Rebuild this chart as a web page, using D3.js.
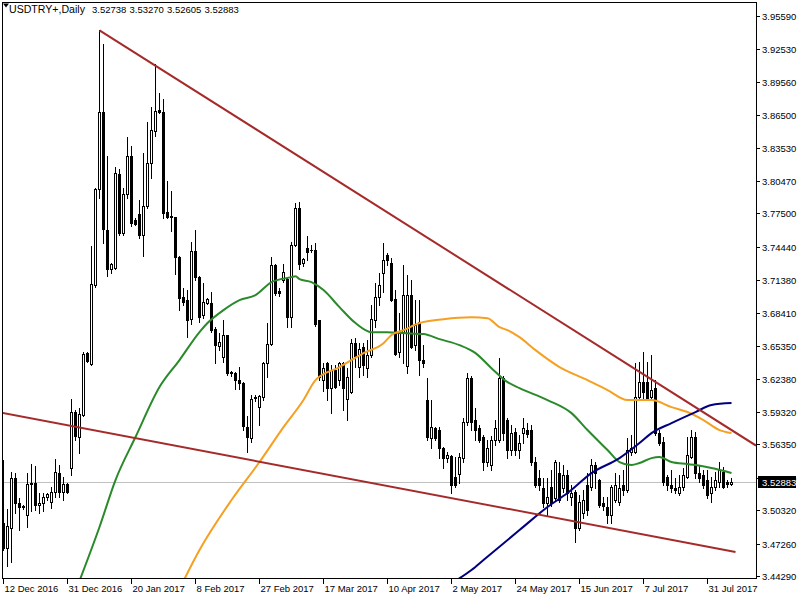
<!DOCTYPE html>
<html><head><meta charset="utf-8">
<script src="https://cdn.jsdelivr.net/npm/d3@7"></script>
<style>
html,body{margin:0;padding:0;background:#fff;}
svg{display:block;}
text{font-family:"Liberation Sans",Arial,sans-serif;font-size:9.5px;fill:#000;}
</style></head><body>
<svg id="chart" width="800" height="600"></svg>
<script>
const symbolLabel = "USDTRY+,Daily";
const lastOHLC = [3.52738, 3.53270, 3.52605, 3.52883];

const open = [
3.4914,3.4685,3.4869,3.5326,3.5097,3.5070,3.4988,3.5271,3.5281,3.5079,
3.5097,3.5152,3.5107,3.5198,3.5372,3.5198,3.5271,3.5418,3.5931,3.5702,
3.5903,3.6471,3.6370,3.7093,3.7972,3.8677,3.7597,3.7240,3.7249,3.8110,
3.7570,3.7927,3.8275,3.7689,3.7744,3.7551,3.7817,3.8210,3.8503,3.8696,
3.8677,3.7762,3.7725,3.7716,3.7350,3.6984,3.6956,3.6782,3.7405,3.7167,
3.6819,3.6929,3.6929,3.6691,3.6535,3.6434,3.6636,3.6297,3.6288,3.6224,
3.6196,3.5793,3.5693,3.6059,3.5976,3.6068,3.6379,3.6553,3.7277,3.7039,
3.7139,3.7148,3.6800,3.7460,3.7798,3.7295,3.7432,3.7414,3.7414,3.6773,
3.6224,3.6379,3.6150,3.6315,3.6224,3.6379,3.6050,3.6114,3.6562,3.6343,
3.6526,3.6333,3.6453,3.6773,3.6984,3.7203,3.7368,3.7295,3.6965,3.6480,
3.6654,3.6352,3.7002,3.6544,3.6755,3.6407,3.6041,3.5693,3.5784,3.5766,
3.5601,3.5509,3.5528,3.5335,3.5363,3.5509,3.5839,3.6242,3.5857,3.5784,
3.5702,3.5473,3.5445,3.5674,3.5674,3.6242,3.5857,3.5583,3.5748,3.5583,
3.5738,3.5766,3.5766,3.5473,3.5326,3.5235,3.5097,3.5244,3.5143,3.5372,
3.5235,3.5354,3.5152,3.5198,3.4869,3.5006,3.5262,3.5244,3.5445,3.5308,
3.5097,3.5061,3.4988,3.5125,3.5107,3.5262,3.5216,3.5564,3.5564,3.6068,
3.6205,3.6205,3.6068,3.6150,3.5738,3.5656,3.5335,3.5262,3.5235,3.5189,
3.5244,3.5335,3.5519,3.5702,3.5372,3.5354,3.5308,3.5189,3.5244,3.5290,
3.5381,3.5290,3.52738];
const high = [
3.5491,3.5042,3.5381,3.5372,3.5143,3.5079,3.5372,3.5455,3.5436,3.5189,
3.5189,3.5189,3.5244,3.5500,3.5445,3.5335,3.5281,3.6050,3.5949,3.5967,
3.6480,3.6480,3.7451,3.7982,3.9428,3.9300,3.8275,3.7295,3.8174,3.8156,
3.7982,3.8449,3.8366,3.7707,3.7872,3.8302,3.8586,3.8723,3.9117,3.8851,
3.8796,3.8046,3.7954,3.7720,3.7359,3.7066,3.7048,3.7487,3.7597,3.7176,
3.7112,3.6974,3.7029,3.6709,3.6654,3.6773,3.6640,3.6306,3.6297,3.6343,
3.6205,3.5894,3.6086,3.6086,3.6086,3.6388,3.6746,3.7350,3.7286,3.7066,
3.7286,3.7167,3.7487,3.7844,3.7853,3.7341,3.7542,3.7460,3.7478,3.6775,
3.6379,3.6388,3.6361,3.6361,3.6388,3.6388,3.6333,3.6599,3.6608,3.6562,
3.6562,3.6590,3.6910,3.7112,3.7203,3.7478,3.7386,3.7341,3.7048,3.6837,
3.7277,3.7185,3.7139,3.6956,3.6956,3.6544,3.6242,3.6041,3.5793,3.5793,
3.5610,3.5564,3.5537,3.5519,3.5555,3.5876,3.6288,3.6260,3.5967,3.5812,
3.5720,3.5674,3.5711,3.5857,3.6425,3.6260,3.5876,3.5812,3.5784,3.5720,
3.5876,3.5830,3.5812,3.5519,3.5400,3.5326,3.5326,3.5400,3.5491,3.5473,
3.5445,3.5400,3.5262,3.5216,3.5171,3.5216,3.5372,3.5500,3.5473,3.5317,
3.5152,3.5152,3.5262,3.5372,3.5354,3.5400,3.5693,3.5720,3.6379,3.6388,
3.6480,3.6388,3.6453,3.6224,3.5766,3.5702,3.5354,3.5400,3.5326,3.5354,
3.5418,3.5702,3.5766,3.5748,3.5445,3.5400,3.5400,3.5335,3.5381,3.5473,
3.5427,3.5308,3.53270];
const low = [
3.4667,3.4521,3.4557,3.5006,3.4850,3.5042,3.4878,3.5024,3.5033,3.5006,
3.5024,3.5125,3.5052,3.5152,3.5152,3.5125,3.5189,3.5354,3.5674,3.5555,
3.5894,3.6390,3.6361,3.7075,3.7890,3.7478,3.7176,3.7203,3.7240,3.7551,
3.7551,3.7890,3.7634,3.7643,3.7524,3.7359,3.7798,3.8073,3.8458,3.8668,
3.7707,3.7707,3.7588,3.7194,3.6865,3.6910,3.6617,3.6736,3.7139,3.6755,
3.6791,3.6925,3.6663,3.6379,3.6498,3.6388,3.6269,3.6260,3.6141,3.6141,
3.5766,3.5564,3.5656,3.6031,3.5812,3.6041,3.6251,3.6544,3.7002,3.6993,
3.7121,3.6709,3.6709,3.7451,3.7240,3.7267,3.7322,3.7396,3.6718,3.6224,
3.6123,3.6041,3.5921,3.6150,3.6178,3.5949,3.5857,3.6105,3.6343,3.6251,
3.6269,3.6251,3.6434,3.6709,3.6910,3.7029,3.7277,3.6947,3.6453,3.6434,
3.6379,3.6288,3.6517,3.6498,3.6269,3.6343,3.5674,3.5601,3.5674,3.5509,
3.5418,3.5473,3.5189,3.5244,3.5281,3.5473,3.5812,3.5766,3.5674,3.5656,
3.5400,3.5436,3.5400,3.5628,3.5656,3.5674,3.5509,3.5537,3.5537,3.5509,
3.5647,3.5702,3.5445,3.5244,3.5216,3.5061,3.4988,3.5070,3.5125,3.5107,
3.5198,3.5125,3.5079,3.4740,3.4850,3.4960,3.4988,3.5216,3.5235,3.5061,
3.5033,3.4914,3.4914,3.5107,3.5079,3.5171,3.5198,3.5537,3.5555,3.6041,
3.6041,3.6041,3.6041,3.5720,3.5628,3.5262,3.5216,3.5198,3.5189,3.5171,
3.5216,3.5326,3.5509,3.5326,3.5290,3.5235,3.5143,3.5107,3.5216,3.5244,
3.5235,3.5244,3.52605];
const close = [
3.4685,3.4887,3.5326,3.5097,3.5061,3.5061,3.5271,3.5281,3.5079,3.5097,
3.5152,3.5180,3.5198,3.5381,3.5198,3.5271,3.5198,3.5931,3.5711,3.5912,
3.6462,3.6398,3.7103,3.7972,3.8677,3.7606,3.7240,3.7286,3.8119,3.7570,
3.7927,3.8275,3.7661,3.7652,3.7551,3.7817,3.8210,3.8513,3.8687,3.8677,
3.7753,3.7716,3.7716,3.7350,3.6974,3.6938,3.6773,3.7405,3.7167,3.6800,
3.6938,3.6965,3.6681,3.6544,3.6572,3.6636,3.6288,3.6288,3.6224,3.6196,
3.5802,3.5702,3.6050,3.6068,3.6077,3.6379,3.6553,3.7277,3.7020,3.7020,
3.7212,3.6800,3.7460,3.7798,3.7286,3.7332,3.7396,3.7411,3.6736,3.6251,
3.6333,3.6150,3.6315,3.6160,3.6379,3.6150,3.6251,3.6562,3.6443,3.6507,
3.6361,3.6453,3.6782,3.6984,3.7093,3.7322,3.7322,3.6956,3.6462,3.6654,
3.7002,3.7002,3.6526,3.6727,3.6407,3.6379,3.5702,3.5793,3.5693,3.5601,
3.5509,3.5537,3.5262,3.5262,3.5519,3.5839,3.6242,3.5839,3.5766,3.5674,
3.5473,3.5601,3.5674,3.5784,3.6242,3.5738,3.5583,3.5738,3.5583,3.5647,
3.5784,3.5729,3.5473,3.5262,3.5262,3.5097,3.5152,3.5097,3.5473,3.5125,
3.5354,3.5189,3.5189,3.4869,3.5107,3.5125,3.5033,3.5445,3.5372,3.5079,
3.5070,3.4988,3.5244,3.5262,3.5235,3.5216,3.5583,3.5601,3.6068,3.6205,
3.6114,3.6059,3.6132,3.5738,3.5647,3.5290,3.5262,3.5235,3.5216,3.5244,
3.5354,3.5537,3.5702,3.5372,3.5326,3.5262,3.5171,3.5244,3.5308,3.5400,
3.5244,3.5271,3.52883];

const dateLabels = ["12 Dec 2016","31 Dec 2016","20 Jan 2017","8 Feb 2017","27 Feb 2017","17 Mar 2017","10 Apr 2017","2 May 2017","24 May 2017","15 Jun 2017","7 Jul 2017","31 Jul 2017"];
const dateLabelBars = [0,16,32,48,64,80,96,112,128,144,160,176];
const priceTicks = [3.95590,3.92530,3.89560,3.86500,3.83530,3.80470,3.77500,3.74440,3.71380,3.68410,3.65350,3.62380,3.59320,3.56350,3.53290,3.50320,3.47260,3.44290];

const maGreenBars = [19,24,28,33,39,44,49,51,55,59,63,67,72,73,74,77,80,84,88,92,96,100,105,109,114,118,122,126,129,136,142,146,151,154,157,159,162,164,167,171,173,177,182];
const maGreen = [3.4385,3.4878,3.5308,3.5702,3.6160,3.6407,3.6663,3.6746,3.6865,3.6956,3.7002,3.7121,3.7167,3.7176,3.7148,3.7121,3.7048,3.6892,3.6746,3.6663,3.6663,3.6654,3.6645,3.6599,3.6544,3.6471,3.6333,3.6205,3.6150,3.6041,3.5921,3.5766,3.5583,3.5473,3.5445,3.5464,3.5509,3.5519,3.5473,3.5454,3.5445,3.5418,3.5372];
const maOrangeBars = [45,49,57,64,70,75,78,84,90,95,97,100,104,110,117,121,124,126,129,133,139,146,151,156,162,167,171,175,179,182];
const maOrange = [3.4385,3.4667,3.5125,3.5473,3.5793,3.6041,3.6224,3.6343,3.6471,3.6562,3.6636,3.6681,3.6746,3.6782,3.6800,3.6791,3.6709,3.6681,3.6617,3.6498,3.6343,3.6224,3.6132,3.6041,3.6041,3.5976,3.5931,3.5857,3.5766,3.5738];
const maNavyBars = [113,117,120,129,136,141,147,154,159,162,167,173,177,182];
const maNavy = [3.4385,3.4484,3.4576,3.4850,3.5061,3.5189,3.5372,3.5509,3.5647,3.5738,3.5830,3.5931,3.5995,3.6013];

const trendUpperBars = [24,182];
const trendUpper = [3.9428,3.5766];
const trendLowerBars = [-1,183];
const trendLower = [3.5928,3.4649];

const svg = d3.select("#chart");
const L = 2, R = 756, T = 2, B = 578;
const x = d3.scaleLinear().domain([0,182]).range([3.5,731.5]);
const y = d3.scaleLinear().domain([3.4429,3.9559]).range([576,16]);

svg.append("rect").attr("width",800).attr("height",600).attr("fill","#fff");
const defs = svg.append("defs");
defs.append("clipPath").attr("id","plotclip").append("rect")
  .attr("x",L+1).attr("y",T+1).attr("width",R-L-1).attr("height",B-T-1);
const plot = svg.append("g").attr("clip-path","url(#plotclip)");

// current price line
const yLast = Math.round(y(lastOHLC[3]))+0.5;
plot.append("line").attr("x1",L).attr("x2",R).attr("y1",yLast).attr("y2",yLast)
  .attr("stroke","#c0c0c0").attr("stroke-width",1).attr("shape-rendering","crispEdges");

// candles
const candles = plot.append("g").attr("shape-rendering","crispEdges");
open.forEach((o,i)=>{
  const c = close[i], h = high[i], l = low[i];
  const cx = x(i);
  const yh = Math.round(y(h)), yl = Math.round(y(l));
  const yt = Math.round(y(Math.max(o,c))), yb = Math.round(y(Math.min(o,c)));
  candles.append("line").attr("x1",cx).attr("x2",cx).attr("y1",yh).attr("y2",yl+1)
    .attr("stroke","#000").attr("stroke-width",1);
  if (yb - yt < 1) {
    candles.append("rect").attr("x",cx-1.5).attr("y",yt).attr("width",3).attr("height",1).attr("fill","#000");
  } else if (c >= o) {
    candles.append("rect").attr("x",cx-1).attr("y",yt+0.5).attr("width",2).attr("height",yb-yt)
      .attr("fill","#fff").attr("stroke","#000").attr("stroke-width",1);
  } else {
    candles.append("rect").attr("x",cx-1.5).attr("y",yt).attr("width",3).attr("height",yb-yt+1).attr("fill","#000");
  }
});

// moving averages
const lineGen = d3.line().x(d=>x(d[0])).y(d=>y(d[1])).curve(d3.curveMonotoneX);
function ma(bars, vals, color){
  plot.append("path").datum(bars.map((b,k)=>[b,vals[k]]))
    .attr("d",lineGen).attr("fill","none").attr("stroke",color).attr("stroke-width",2);
}
ma(maGreenBars, maGreen, "#2a8a2a");
ma(maOrangeBars, maOrange, "#f5a021");
ma(maNavyBars, maNavy, "#000080");

// trend lines
function interp(bars, vals, b){
  return vals[0] + (vals[1]-vals[0])*(b-bars[0])/(bars[1]-bars[0]);
}
const bRight = x.invert(R);
plot.append("line")
  .attr("x1",x(trendUpperBars[0])).attr("y1",y(trendUpper[0]))
  .attr("x2",x(bRight)).attr("y2",y(interp(trendUpperBars,trendUpper,bRight)))
  .attr("stroke","#a52a2a").attr("stroke-width",2);
plot.append("line")
  .attr("x1",x(trendLowerBars[0])).attr("y1",y(trendLower[0]))
  .attr("x2",x(trendLowerBars[1])).attr("y2",y(trendLower[1]))
  .attr("stroke","#a52a2a").attr("stroke-width",2);

// frame
svg.append("rect").attr("x",L+0.5).attr("y",T+0.5).attr("width",R-L).attr("height",B-T)
  .attr("fill","none").attr("stroke","#000").attr("stroke-width",1).attr("shape-rendering","crispEdges");

// right price axis
const ax = svg.append("g");
priceTicks.forEach(p=>{
  const yy = Math.round(y(p))+0.5;
  ax.append("line").attr("x1",R+1).attr("x2",R+4).attr("y1",yy).attr("y2",yy)
    .attr("stroke","#000").attr("shape-rendering","crispEdges");
  ax.append("text").attr("x",R+6).attr("y",yy).attr("dy","0.35em").text(p.toFixed(5));
});
// last price box
ax.append("rect").attr("x",R+2).attr("y",yLast-6.5).attr("width",38).attr("height",12).attr("fill","#000");
ax.append("text").attr("x",R+6).attr("y",yLast).attr("dy","0.35em").style("fill","#fff").text(lastOHLC[3].toFixed(5));

// bottom date axis
dateLabelBars.forEach((b,k)=>{
  const xx = Math.round(x(b))-0.5;
  ax.append("line").attr("x1",xx).attr("x2",xx).attr("y1",B+1).attr("y2",B+6)
    .attr("stroke","#000").attr("shape-rendering","crispEdges");
  ax.append("text").attr("x",xx+1).attr("y",B+14).text(dateLabels[k]);
});

// header
svg.append("path").attr("d","M3,3.5 L9,3.5 L6,7.5 Z").attr("fill","#000");
const hdr = svg.append("g");
hdr.append("text").attr("x",9).attr("y",13).attr("textLength",76).attr("lengthAdjust","spacingAndGlyphs")
  .style("font-size","10px").text(symbolLabel);
lastOHLC.forEach((v,k)=>{
  hdr.append("text").attr("x",92 + k*37.5).attr("y",13).text(v.toFixed(5));
});
</script>
</body></html>
